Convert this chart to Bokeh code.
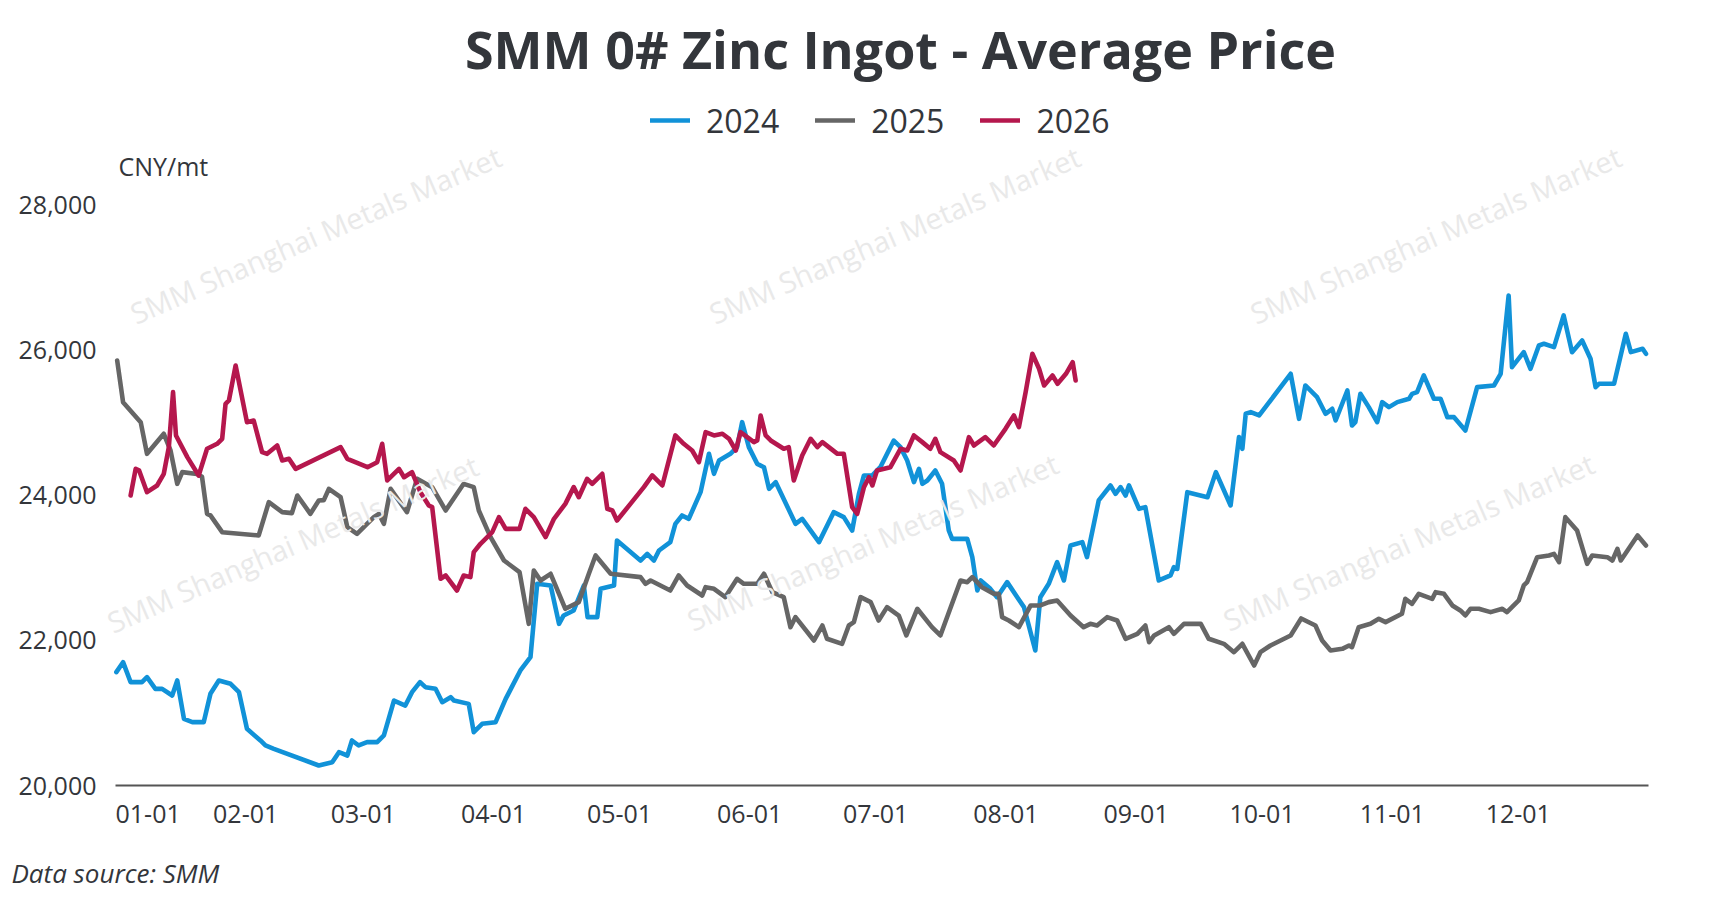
from bokeh.plotting import figure
from bokeh.models import Range1d, FixedTicker, Label, Legend, LegendItem, NumeralTickFormatter
from bokeh.embed import file_html
from bokeh.resources import INLINE

# ---------------- data (x = day of year, 0 = Jan 1) ----------------
month_days = [0, 31, 59, 90, 120, 151, 181, 212, 243, 273, 304, 334]
month_labels = ["01-01", "02-01", "03-01", "04-01", "05-01", "06-01",
                "07-01", "08-01", "09-01", "10-01", "11-01", "12-01"]
y_ticks = [20000, 22000, 24000, 26000, 28000]

day_2024 = [0.2, 1.8, 3.6, 6.3, 7.5, 9.5, 11.1, 13.5, 14.7, 16.3, 18.3, 21.0, 22.6, 24.6, 27.4, 29.4,
            31.3, 34.5, 35.7, 37.7, 48.4, 51.6, 53.2, 55.2, 56.3, 57.9, 59.9, 62.3, 63.9, 66.3, 69.0,
            70.6, 72.5, 73.8, 76.2, 77.8, 79.8, 80.6, 84.1, 85.3, 87.3, 90.5, 92.9, 96.4, 98.8, 100.4,
            103.6, 105.6, 106.7, 109.1, 111.5, 112.4, 114.7, 115.5, 118.7, 119.4, 125.0, 126.6, 128.2,
            129.4, 132.1, 133.3, 134.9, 136.5, 139.3, 141.3, 142.5, 143.7, 146.4, 148.0, 149.2, 150.8,
            152.8, 154.4, 155.6, 157.2, 161.9, 163.5, 167.5, 171.0, 173.4, 175.4, 177.0, 178.2, 180.2,
            182.1, 185.3, 186.9, 188.5, 190.1, 191.3, 192.1, 193.3, 195.2, 196.8, 198.4, 199.2, 202.8,
            204.0, 205.2, 206.0, 208.3, 209.9, 212.3, 214.7, 216.3, 219.0, 220.2, 222.2, 224.2, 225.8,
            227.4, 230.2, 231.3, 234.1, 236.9, 238.1, 239.3, 240.5, 241.3, 243.7, 245.2, 248.4, 251.2,
            252.0, 252.8, 255.2, 260.0, 262.0, 265.5, 267.5, 268.3, 269.1, 270.3, 272.3, 279.8, 281.8,
            283.3, 286.1, 288.1, 289.7, 290.5, 293.3, 294.4, 295.2, 296.4, 298.4, 300.4, 301.6, 303.2,
            305.2, 308.0, 308.7, 309.9, 311.5, 313.9, 315.5, 317.1, 318.7, 321.4, 324.2, 328.2, 329.8,
            331.7, 332.5, 335.3, 336.9, 338.9, 340.1, 342.5, 344.8, 346.8, 349.2, 351.2, 352.4, 353.2,
            356.8, 359.6, 360.8, 363.6, 364.4]
price_2024 = [21561, 21698, 21423, 21423, 21492, 21331, 21331, 21239, 21446, 20918, 20872, 20872, 21262,
              21446, 21400, 21285, 20780, 20620, 20551, 20505, 20275, 20321, 20459, 20413, 20620, 20551,
              20597, 20597, 20689, 21170, 21101, 21285, 21423, 21354, 21331, 21147, 21216, 21170, 21124,
              20734, 20849, 20872, 21193, 21584, 21767, 22777, 22754, 22226, 22341, 22410, 22754, 22318,
              22318, 22708, 22754, 23374, 23098, 23190, 23098, 23236, 23351, 23603, 23718, 23672, 24039,
              24567, 24292, 24475, 24567, 24659, 25003, 24659, 24429, 24383, 24085, 24177, 23603, 23672,
              23351, 23764, 23695, 23511, 24016, 24269, 24269, 24383, 24750, 24659, 24475, 24177, 24360,
              24154, 24200, 24338, 24154, 23511, 23396, 23396, 23144, 22685, 22823, 22708, 22593, 22800,
              22593, 22456, 21859, 22593, 22777, 23075, 22823, 23305, 23351, 23144, 23925, 24131, 24016,
              24108, 23993, 24131, 23810, 23833, 22823, 22892, 23006, 22983, 24039, 23970, 24315, 23856,
              24797, 24636, 25118, 25141, 25095, 25669, 25049, 25508, 25347, 25118, 25187, 25026, 25439,
              24957, 25003, 25393, 25210, 25003, 25279, 25210, 25279, 25325, 25393, 25416, 25646, 25325,
              25325, 25072, 25072, 24888, 25485, 25508, 25669, 26747, 25761, 25967, 25738, 26059, 26082,
              26036, 26472, 25967, 26128, 25876, 25485, 25531, 25531, 26220, 25967, 26013, 25944]

day_2025 = [0.4, 1.8, 6.0, 7.5, 11.5, 13.1, 14.7, 15.9, 19.4, 20.6, 21.8, 22.6, 25.4, 34.1, 36.5, 39.7,
            42.0, 43.3, 46.4, 48.4, 49.6, 50.8, 53.6, 55.2, 57.5, 61.5, 62.7, 63.9, 65.5, 69.4, 71.8,
            75.4, 78.6, 82.9, 85.3, 86.5, 89.3, 92.5, 96.2, 98.4, 99.6, 101.2, 103.6, 107.1, 110.3,
            112.7, 114.3, 117.9, 125.0, 126.2, 127.4, 132.1, 134.1, 136.1, 139.7, 140.5, 142.5, 145.2,
            148.0, 149.6, 152.8, 154.4, 156.4, 159.1, 160.7, 161.9, 166.3, 168.3, 169.4, 173.0, 174.6,
            175.8, 177.4, 179.8, 181.7, 183.7, 186.5, 188.3, 190.9, 194.4, 196.4, 201.2, 202.8, 204.0,
            206.3, 209.1, 210.3, 211.1, 212.7, 215.1, 217.9, 220.2, 222.2, 224.2, 227.4, 230.5, 232.1,
            233.7, 236.1, 238.5, 240.5, 243.3, 245.2, 246.1, 247.3, 250.8, 252.0, 254.4, 258.4, 260.3,
            263.9, 266.3, 268.3, 271.1, 272.6, 275.0, 279.8, 282.3, 285.7, 287.3, 289.3, 292.1, 293.7,
            294.4, 296.0, 298.8, 300.8, 302.4, 306.3, 307.1, 308.7, 310.3, 313.5, 314.3, 316.3, 318.3,
            320.2, 321.4, 322.6, 324.6, 327.4, 330.2, 331.3, 334.1, 335.3, 336.1, 338.5, 341.3, 342.5,
            343.7, 345.2, 348.0, 350.4, 351.6, 355.2, 356.4, 357.6, 358.4, 362.4, 364.4]
price_2025 = [25852, 25278, 25003, 24567, 24843, 24613, 24154, 24315, 24290, 24250, 23741, 23720, 23488,
              23443, 23901, 23764, 23750, 23993, 23741, 23925, 23930, 24085, 23970, 23557, 23466, 23695,
              23741, 23603, 24085, 23764, 24223, 24108, 23787, 24154, 24108, 23787, 23420, 23098, 22938,
              22226, 22961, 22823, 22915, 22433, 22525, 22915, 23167, 22915, 22869, 22777, 22823, 22685,
              22892, 22754, 22616, 22731, 22708, 22594, 22846, 22777, 22777, 22915, 22662, 22594, 22180,
              22318, 21997, 22203, 22020, 21951, 22203, 22249, 22594, 22525, 22272, 22456, 22340, 22066,
              22433, 22180, 22066, 22823, 22800, 22869, 22731, 22639, 22639, 22318, 22272, 22180, 22479,
              22479, 22525, 22548, 22341, 22180, 22226, 22203, 22318, 22272, 22020, 22089, 22203, 21974,
              22066, 22180, 22089, 22226, 22226, 22020, 21951, 21836, 21951, 21652, 21836, 21928, 22066,
              22300, 22203, 21997, 21859, 21882, 21928, 21905, 22180, 22226, 22295, 22249, 22364, 22570,
              22502, 22639, 22570, 22662, 22639, 22479, 22410, 22341, 22433, 22433, 22387, 22433, 22387,
              22548, 22754, 22800, 23144, 23167, 23190, 23075, 23695, 23511, 23052, 23167, 23144, 23098,
              23259, 23098, 23443, 23305]

day_2026 = [3.6, 4.8, 5.6, 7.5, 9.9, 11.5, 12.7, 13.7, 14.4, 17.1, 19.8, 21.8, 24.2, 25.4, 26.2, 27.0,
            28.6, 31.3, 32.9, 34.9, 36.1, 38.5, 39.7, 41.3, 42.9, 53.6, 55.2, 60.0, 62.3, 63.5, 64.7,
            67.5, 68.7, 70.6, 72.6, 74.6, 75.4, 77.4, 78.6, 81.3, 82.9, 84.5, 85.3, 86.9, 89.7, 91.3,
            92.9, 96.2, 97.6, 99.6, 102.4, 104.4, 107.1, 109.1, 110.3, 112.3, 113.5, 115.9, 117.1, 118.3,
            119.4, 122.6, 125.8, 127.8, 130.2, 133.3, 135.3, 137.3, 138.9, 140.5, 142.5, 144.5, 146.1,
            147.7, 148.8, 152.0, 152.8, 153.6, 154.8, 156.0, 159.1, 160.3, 161.5, 163.5, 165.5, 167.1,
            168.3, 171.9, 173.4, 175.4, 176.6, 178.2, 179.4, 180.2, 181.3, 184.5, 186.9, 188.5, 190.1,
            192.1, 194.0, 195.2, 196.4, 199.6, 201.2, 203.2, 204.4, 207.1, 209.1, 211.9, 213.9, 215.1,
            216.7, 218.3, 219.9, 221.1, 223.1, 224.3, 226.3, 227.9, 228.6]
price_2026 = [23993, 24360, 24340, 24039, 24131, 24292, 24659, 25416, 24820, 24521, 24269, 24637, 24705,
              24774, 25256, 25302, 25783, 25003, 25026, 24590, 24567, 24682, 24475, 24498, 24360, 24659,
              24498, 24383, 24452, 24705, 24200, 24360, 24245, 24315, 24039, 23856, 23833, 22846, 22892,
              22685, 22892, 22869, 23213, 23328, 23488, 23695, 23534, 23534, 23810, 23695, 23420, 23672,
              23878, 24108, 23970, 24223, 24154, 24292, 23810, 23787, 23649, 23878, 24108, 24269, 24131,
              24820, 24705, 24613, 24452, 24865, 24820, 24843, 24774, 24613, 24865, 24728, 24751, 25095,
              24820, 24751, 24636, 24659, 24200, 24544, 24774, 24659, 24728, 24567, 24567, 23833, 23741,
              24108, 24245, 24131, 24337, 24383, 24636, 24613, 24820, 24728, 24636, 24774, 24590, 24475,
              24338, 24797, 24682, 24797, 24682, 24911, 25095, 24934, 25416, 25944, 25738, 25508, 25646,
              25531, 25669, 25829, 25577]

series_names = ["2024", "2025", "2026"]
series_colors = ["#1192d8", "#666666", "#b5174d"]

TEXT = "#33363b"
FONT = "Open Sans"

# ---------------- layout constants (pixels) ----------------
W, H = 1715, 893
X0_PX, X1_PX = 115, 1648        # day 0 .. day 365
Y_LO_PX, Y_HI_PX = 785, 204     # 20000 .. 28000 (from top)
px_per_day = (X1_PX - X0_PX) / 365.0
px_per_cny = (Y_LO_PX - Y_HI_PX) / 8000.0

x_start = 0 - X0_PX / px_per_day
x_end = 365 + (W - X1_PX) / px_per_day
y_start = 20000 - (H - Y_LO_PX) / px_per_cny
y_end = 20000 + Y_LO_PX / px_per_cny

p = figure(width=W, height=H, output_backend="svg", toolbar_location=None, title=None,
           x_range=Range1d(x_start, x_end), y_range=Range1d(y_start, y_end), min_border=0)
p.background_fill_color = "white"
p.border_fill_color = "white"
p.outline_line_color = None
p.xgrid.grid_line_color = None
p.ygrid.grid_line_color = None

def sy(y_from_top):
    return H - y_from_top

# watermarks
wm_pos = [(315, 234), (894, 234), (1435, 234), (292, 543), (872, 541), (1408, 541)]
for (wx, wy) in wm_pos:
    p.add_layout(Label(x=wx, y=sy(wy), x_units="screen", y_units="screen",
                       text="SMM Shanghai Metals Market", angle=0.41,
                       text_align="center", text_baseline="middle",
                       text_font=FONT, text_font_size="29px",
                       text_color="#e9e9e9"))

renderers = []
for d, v, c in zip([day_2024, day_2025, day_2026], [price_2024, price_2025, price_2026], series_colors):
    r = p.line(d, v, line_color=c, line_width=4.6, line_join="round", line_cap="round")
    renderers.append(r)

# axes (drawn at fixed data locations inside the full-size frame)
xa = p.xaxis[0]
xa.fixed_location = 20000
xa.bounds = (0, 365)
xa.ticker = FixedTicker(ticks=month_days[1:])
xa.major_label_overrides = {d: l for d, l in zip(month_days, month_labels)}
xa.major_tick_line_color = None
xa.minor_tick_line_color = None
xa.axis_line_color = "#555555"
xa.axis_line_width = 2
xa.major_label_standoff = 13
xa.major_label_text_font = FONT
xa.major_label_text_font_size = "25px"
xa.major_label_text_color = TEXT

# the first month label sits flush with the start of the axis, as in the source chart
p.add_layout(Label(x=X0_PX, y=sy(813), x_units="screen", y_units="screen", text=month_labels[0],
                   text_align="left", text_baseline="alphabetic", text_font=FONT,
                   text_font_size="25px", text_color=TEXT))

ya = p.yaxis[0]
ya.fixed_location = 0
ya.bounds = (20000, 28000)
ya.ticker = FixedTicker(ticks=y_ticks)
ya.formatter = NumeralTickFormatter(format="0,0")
ya.major_tick_line_color = None
ya.minor_tick_line_color = None
ya.axis_line_color = None
ya.major_label_standoff = 13
ya.major_label_text_font = FONT
ya.major_label_text_font_size = "25px"
ya.major_label_text_color = TEXT

# legend
legend = Legend(items=[LegendItem(label=n, renderers=[r]) for n, r in zip(series_names, renderers)],
                orientation="horizontal", location=(650, sy(142)),
                border_line_color=None, background_fill_alpha=0,
                padding=0, margin=0, spacing=36, label_standoff=16,
                glyph_width=40, glyph_height=44, label_height=44,
                label_text_font=FONT, label_text_font_size="32px", label_text_color=TEXT)
p.add_layout(legend, "center")

# texts
p.add_layout(Label(x=900, y=sy(48), x_units="screen", y_units="screen",
                   text="SMM 0# Zinc Ingot - Average Price", text_align="center",
                   text_baseline="alphabetic", text_font=FONT, text_font_size="52px",
                   text_font_style="bold", text_color=TEXT))
p.add_layout(Label(x=118, y=sy(165.5), x_units="screen", y_units="screen", text="CNY/mt",
                   text_align="left", text_baseline="alphabetic", text_font=FONT,
                   text_font_size="25px", text_color=TEXT))
p.add_layout(Label(x=11, y=sy(872), x_units="screen", y_units="screen", text="Data source: SMM",
                   text_align="left", text_baseline="alphabetic", text_font=FONT,
                   text_font_size="26px", text_font_style="italic", text_color=TEXT))

open("out.html", "w").write(file_html(p, INLINE))
